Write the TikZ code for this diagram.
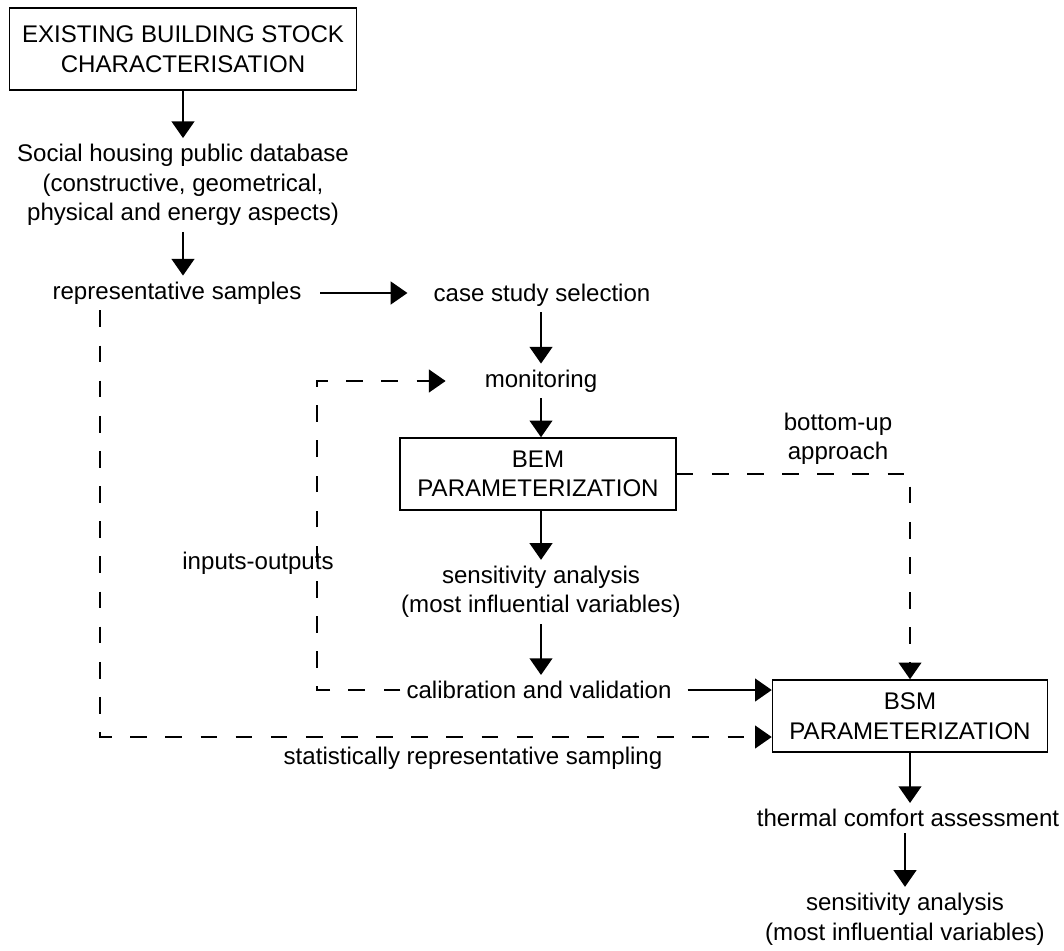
\documentclass[tikz,border=0pt]{standalone}
\usepackage{fontspec}
\setmainfont{Liberation Sans}
\usetikzlibrary{arrows.meta}

\begin{document}
\begin{tikzpicture}[
            x=0.02cm, y=-0.02cm,
            every node/.style = {font=\fontsize{13.7}{16.8}\selectfont, align=center},
            box/.style = {draw, line width=0.9pt, inner sep=0pt},
            arr/.style = {-{Triangle[width=13pt,length=9.5pt]}, line width=0.9pt},
            dasharr/.style = {arr, dash pattern=on 9.5pt off 10.5pt}
        ]
            \useasboundingbox (0,0) rectangle (1064,950);
            \node[box, minimum width=6.94cm, minimum height=1.64cm] (stock) at (183,49) {EXISTING BUILDING STOCK\\CHARACTERISATION};
            \node (database) at (183,185) {Social housing public database\\(constructive, geometrical,\\physical and energy aspects)};
            \node (samples) at (177,293) {representative samples};
            \node (casestudy) at (542,295) {case study selection};
            \node (monitoring) at (541,381) {monitoring};
            \node[box, minimum width=5.52cm, minimum height=1.44cm] (bem) at (538,474) {BEM\\PARAMETERIZATION};
            \node (sens1) at (541,592) {sensitivity analysis\\(most influential variables)};
            \node (calib) at (539,690) {calibration and validation};
            \node[box, minimum width=5.5cm, minimum height=1.44cm] (bsm) at (910,716) {BSM\\PARAMETERIZATION};
            \node (thermal) at (908,818) {thermal comfort assessment};
            \node (sens2) at (905,919) {sensitivity analysis\\(most influential variables)};
            \node (bottomup) at (838,439) {bottom-up\\approach};
            \node (inout) at (258,563) {inputs-outputs};
            \node (statsample) at (473,758) {statistically representative sampling};
            \coordinate (ioleft) at (317,381);
            \coordinate (sampleleg) at (100,737);

            \draw[arr] (stock.south) -- (database.north);
            \draw[arr] (database.south) -- (database.south |- samples.north);
            \draw[arr, shorten <=0.25cm, shorten >=0.4cm] (samples.east) -- (casestudy.west |- samples.east);
            \draw[arr] (casestudy.south -| monitoring.north) -- (monitoring.north);
            \draw[arr] (monitoring.south) -- (monitoring.south |- bem.north);
            \draw[arr] (bem.south -| sens1.north) -- (sens1.north);
            \draw[arr] (sens1.south) -- (sens1.south |- calib.north);
            \draw[arr, shorten <=0.2cm] (calib.east) -- (calib.east -| bsm.west);
            \draw[arr] (bsm.south) -- (bsm.south |- thermal.north);
            \draw[arr] (thermal.south -| sens2.north) -- (sens2.north);

            \draw[dasharr] (bem.east) -| (bsm.north);
            \draw[dasharr, shorten >=0.66cm] (calib.west) -| (ioleft) -- (monitoring.west);
            \draw[dasharr] (samples.south -| sampleleg) -- (sampleleg) -- (sampleleg -| bsm.west);
        \end{tikzpicture}
\end{document}
